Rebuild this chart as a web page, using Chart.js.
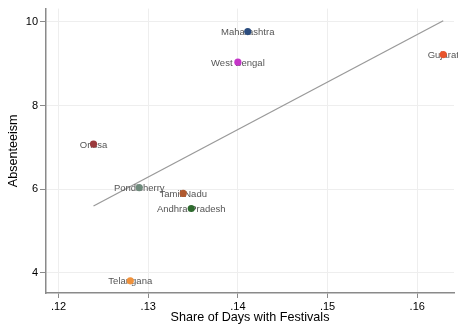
<!DOCTYPE html>
<html>
<head>
<meta charset="utf-8">
<script src="https://cdn.jsdelivr.net/npm/chart.js@4/dist/chart.umd.min.js"></script>
<style>
  html, body { margin: 0; padding: 0; background: #fff; }
  #wrap { width: 458px; height: 327px; }
</style>
</head>
<body>
<div id="wrap"><canvas id="c" width="458" height="327"></canvas></div>
<script>
// States and their festival share vs. absenteeism
const states = ['Maharashtra', 'West Bengal', 'Gujarat', 'Orissa', 'Pondicherry', 'Tamil Nadu', 'Andhra Pradesh', 'Telangana'];
const festivalShare = [0.1411, 0.1400, 0.1629, 0.1239, 0.1290, 0.1339, 0.1348, 0.1280];
const absenteeism = [9.77, 9.04, 9.22, 7.08, 6.04, 5.90, 5.54, 3.81];
const stateColors = ['#2b4c7e', '#c535c8', '#e8542c', '#9a3a3c', '#6f8a7c', '#b0592f', '#2f6b2f', '#f0923c'];

// Linear fit endpoints
const fitX = [0.1239, 0.1629];
const fitY = [5.60, 10.03];

// Axis ticks
const xTicks = [0.12, 0.13, 0.14, 0.15, 0.16];
const yTicks = [4, 6, 8, 10];

const FONT = "'Liberation Sans', Arial, Helvetica, sans-serif";

// Draw state names centred on each marker, beneath the markers
const stateLabels = {
  id: 'stateLabels',
  afterDatasetDraw(chart, args) {
    if (args.index !== 1) return;
    const ctx = chart.ctx;
    const meta = chart.getDatasetMeta(0);
    ctx.save();
    ctx.font = '9.5px ' + FONT;
    ctx.fillStyle = '#555555';
    ctx.textAlign = 'center';
    ctx.textBaseline = 'middle';
    meta.data.forEach((pt, i) => {
      ctx.fillText(states[i], pt.x, pt.y + 1);
    });
    ctx.restore();
  }
};

const tickFormat = v => {
  const s = String(Math.round(v * 100) / 100);
  return s.startsWith('0.') ? s.slice(1) : s;
};

new Chart(document.getElementById('c'), {
  type: 'scatter',
  data: {
    datasets: [
      {
        label: 'States',
        data: festivalShare.map((x, i) => ({ x, y: absenteeism[i] })),
        backgroundColor: stateColors,
        borderColor: stateColors,
        borderWidth: 0,
        pointRadius: 3.6,
        clip: false
      },
      {
        type: 'line',
        label: 'Fitted values',
        data: fitX.map((x, i) => ({ x, y: fitY[i] })),
        borderColor: '#9a9a9a',
        borderWidth: 1.3,
        pointRadius: 0,
        fill: false
      }
    ]
  },
  options: {
    responsive: false,
    animation: false,
    events: [],
    layout: { padding: { top: 7, right: 2, left: 0, bottom: 0 } },
    plugins: {
      legend: { display: false },
      tooltip: { enabled: false }
    },
    scales: {
      x: {
        type: 'linear',
        min: 0.1186,
        max: 0.1641,
        afterBuildTicks: s => { s.ticks = xTicks.map(v => ({ value: v })); },
        afterFit: s => { s.height = 34; },
        ticks: {
          callback: tickFormat,
          color: '#000',
          font: { family: FONT, size: 11 },
          padding: 2,
          maxRotation: 0
        },
        grid: { color: '#eeeeee', lineWidth: 1, tickColor: '#8a8a8a', tickLength: 5 },
        border: { color: '#8a8a8a', width: 1.5 },
        title: {
          display: true,
          text: 'Share of Days with Festivals',
          color: '#000',
          font: { family: FONT, size: 12.6 },
          padding: { top: 0, bottom: 1.5 }
        }
      },
      y: {
        type: 'linear',
        min: 3.52,
        max: 10.32,
        afterBuildTicks: s => { s.ticks = yTicks.map(v => ({ value: v })); },
        afterFit: s => { s.width = 46; },
        ticks: {
          color: '#000',
          font: { family: FONT, size: 11 },
          padding: 2
        },
        grid: { color: '#eeeeee', lineWidth: 1, tickColor: '#8a8a8a', tickLength: 6 },
        border: { color: '#8a8a8a', width: 1.5 },
        title: {
          display: true,
          text: 'Absenteeism',
          color: '#000',
          font: { family: FONT, size: 12.6 },
          padding: { top: 5.5, bottom: 0 }
        }
      }
    }
  },
  plugins: [stateLabels]
});
</script>
</body>
</html>
